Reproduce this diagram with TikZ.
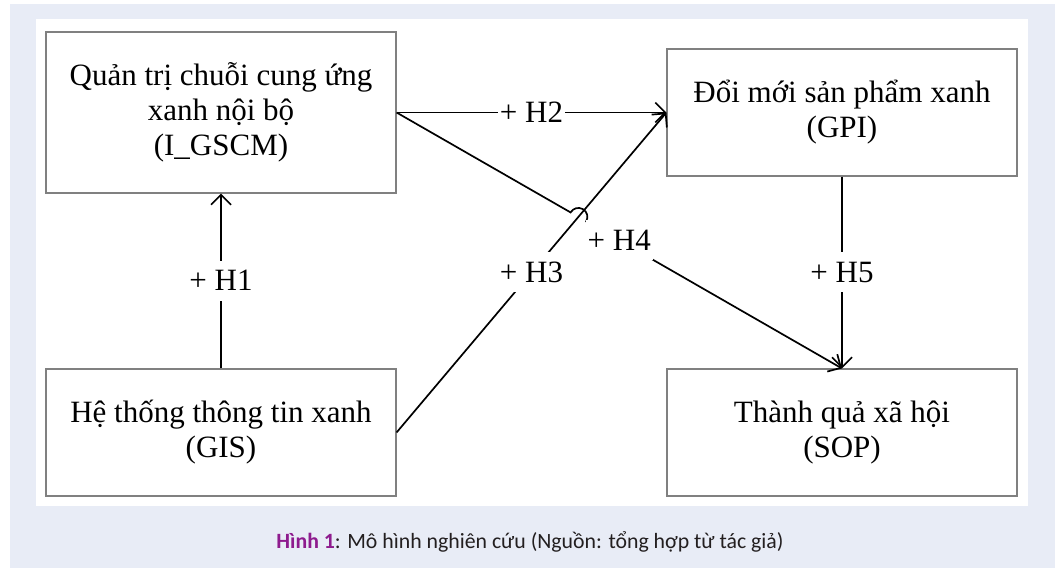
\documentclass[tikz,border=0pt]{standalone}
\usepackage{fontspec}
\setmainfont{Liberation Serif}
\newfontfamily\capfont{Carlito}
\usetikzlibrary{arrows.meta,calc}
\definecolor{bgblue}{HTML}{E8ECF6}
\definecolor{boxgray}{HTML}{808080}
\definecolor{hpurple}{HTML}{8E1B8E}
\definecolor{captxt}{HTML}{231F20}
\begin{document}
\begin{tikzpicture}[x=1pt,y=1pt,
  varbox/.style={draw=boxgray, line width=1.1pt, minimum width=350pt, inner sep=0pt,
     align=center, font=\fontsize{31}{35}\selectfont},
  conn/.style={line width=1.7pt, black, -{Straight Barb[length=10pt,width=20pt]}},
  lbl/.style={fill=white, inner xsep=2pt, inner ysep=8pt, text height=22pt, text depth=2pt,
     font=\fontsize{31}{35}\selectfont}
]
\useasboundingbox (0,0) rectangle (1055,568);
\fill[bgblue] (10,0) rectangle (1055,564);
\fill[white] (36,62) rectangle (1028,549);

\node[varbox, minimum height=161pt] (gscm) at (221,455.5)
  {Quản trị chuỗi cung ứng\\ xanh nội bộ\\ (I\_GSCM)};
\node[varbox, minimum height=127pt] (gis) at (221,135.5)
  {Hệ thống thông tin xanh\\ (GIS)};
\node[varbox, minimum height=127pt] (gpi) at (842,455.5)
  {Đổi mới sản phẩm xanh\\ (GPI)};
\node[varbox, minimum height=127pt] (sop) at (842,135.5)
  {Thành quả xã hội\\ (SOP)};

% H1
\draw[conn] (gis.north) -- node[lbl] {+ H1} (gscm.south);
% H2
\draw[conn] (gscm.east) -- node[lbl] {+ H2} (gpi.west);
% H3
\draw[conn] (gis.east) -- node[lbl] {+ H3} (gpi.west);
% H4 with line hop over H3
\coordinate (X) at (intersection of gscm.east--sop.north and gis.east--gpi.west);
\draw[conn] (gscm.east) -- ($(X)!9pt!(gscm.east)$)
   arc[start angle=150.1, end angle=-29.9, radius=9pt] -- (sop.north);
\node[lbl] (h4) at ($(gscm.east)!0.5!(sop.north)$) {+ H4};
% H5
\draw[conn] (gpi.south) -- node[lbl] {+ H5} (sop.north);

% caption
\node[anchor=base, font=\capfont\fontsize{21.8}{26}\selectfont, text=captxt] (cap) at (530,20)
  {\textbf{\color{hpurple}Hình 1}: Mô hình nghiên cứu (Nguồn: tổng hợp từ tác giả)};
\end{tikzpicture}
\end{document}
